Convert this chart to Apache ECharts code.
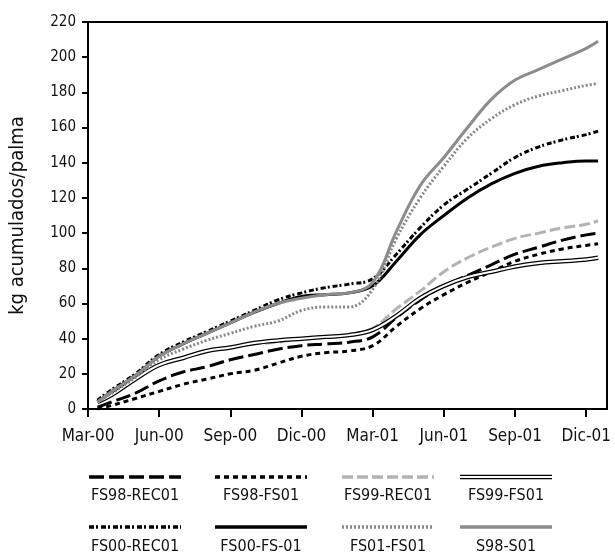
<!DOCTYPE html>
<html>
<head>
<meta charset="utf-8">
<script src="https://cdn.jsdelivr.net/npm/echarts@6/dist/echarts.min.js"></script>
<style>
  html, body { margin: 0; padding: 0; background: #fff; }
  #chart { width: 615px; height: 554px; }
</style>
</head>
<body>
<div id="chart"></div>
<script>
// months counted from Mar-00 (0) to Dic-01 (21)
const months = [0.4, 1, 2, 3, 4, 5, 6, 7, 8, 9, 10, 11, 12, 13, 14, 15, 16, 17, 18, 19, 20, 21, 21.5];
const tickLabels = ['Mar-00', 'Jun-00', 'Sep-00', 'Dic-00', 'Mar-01', 'Jun-01', 'Sep-01', 'Dic-01'];
const yTicks = [0, 20, 40, 60, 80, 100, 120, 140, 160, 180, 200, 220];

const fs98Rec01 = [1, 4, 9, 16, 21, 24, 28, 31, 34, 36, 37, 38, 41, 52, 62, 70, 76, 82, 88, 92, 96, 99, 100];
const fs98Fs01 = [0, 2, 6, 10, 14, 17, 20, 22, 26, 30, 32, 33, 36, 47, 57, 65, 72, 78, 84, 88, 91, 93, 94];
const fs99Rec01 = [4, 8, 17, 25, 29, 33, 35, 37, 38, 40, 41, 42, 46, 57, 67, 78, 86, 92, 97, 100, 103, 105, 107];
const fs99Fs01 = [4, 8, 17, 25, 29, 33, 35, 37.5, 39, 40, 41, 42, 45, 53, 63, 70, 75, 78, 81, 83, 84, 85, 86];
const fs00Rec01 = [5, 11, 20, 31, 38, 44, 50, 56, 62, 66, 69, 71, 74, 88, 103, 116, 125, 134, 143, 149, 153, 156, 158];
const fs00Fs01 = [4, 10, 19, 30, 37, 43, 49, 55, 60, 64, 65, 66, 70, 84, 99, 110, 120, 128, 134, 138, 140, 141, 141];
const fs01Fs01 = [4, 9, 18, 28, 34, 39, 43, 47, 50, 56, 58, 58, 68, 97, 120, 138, 154, 165, 173, 178, 181, 184, 185];
const s98S01 = [4, 10, 19, 30, 37, 43, 49, 55, 60, 63, 65, 66, 72, 101, 127, 143, 160, 176, 187, 193, 199, 205, 209];

const FONT = "'Liberation Sans Narrow', 'DejaVu Sans Condensed', 'Liberation Sans', sans-serif";

// line looks, also used for the legend under the plot
const looks = [
  { name: 'FS98-REC01', data: fs98Rec01, color: '#000', width: 3, dash: [15, 5] },
  { name: 'FS98-FS01', data: fs98Fs01, color: '#000', width: 3, dash: [5, 4] },
  { name: 'FS99-REC01', data: fs99Rec01, color: '#b3b3b3', width: 3, dash: [11, 4] },
  { name: 'FS99-FS01', data: fs99Fs01, color: '#000', width: 4.5, dash: null, double: true },
  { name: 'FS00-REC01', data: fs00Rec01, color: '#000', width: 3, dash: [5, 2, 2, 3] },
  { name: 'FS00-FS-01', data: fs00Fs01, color: '#000', width: 3, dash: null },
  { name: 'FS01-FS01', data: fs01Fs01, color: '#888', width: 3, dash: [2, 2] },
  { name: 'S98-S01', data: s98S01, color: '#8c8c8c', width: 3, dash: null }
];

function pairs(vals) {
  return vals.map((v, i) => [months[i], v]);
}

const series = [];
looks.forEach((l) => {
  series.push({
    name: l.name,
    type: 'line',
    data: pairs(l.data),
    smooth: 0.4,
    showSymbol: false,
    silent: true,
    lineStyle: { color: l.color, width: l.width, type: l.dash || 'solid', cap: 'butt' }
  });
  if (l.double) {
    // white core turns the thick line into a double line
    series.push({
      type: 'line',
      data: pairs(l.data),
      smooth: 0.4,
      showSymbol: false,
      silent: true,
      lineStyle: { color: '#fff', width: 2 }
    });
  }
});

// legend: sample line above the name, 4 columns x 2 rows
const colX = [135, 261, 388, 506];
const rowLineY = [477, 527];
const rowTextY = [496, 547];
const legend = [];
looks.forEach((l, i) => {
  const cx = colX[i % 4];
  const r = Math.floor(i / 4);
  const ly = rowLineY[r];
  legend.push({
    type: 'line',
    shape: { x1: cx - 46, y1: ly, x2: cx + 46, y2: ly },
    style: { stroke: l.color, lineWidth: l.double ? 4.5 : 3.5, lineDash: l.dash || null }
  });
  if (l.double) {
    legend.push({
      type: 'line',
      shape: { x1: cx - 46, y1: ly, x2: cx + 46, y2: ly },
      style: { stroke: '#fff', lineWidth: 2 }
    });
  }
  legend.push({
    type: 'text',
    x: cx,
    y: rowTextY[r],
    style: {
      text: l.name,
      fill: '#111',
      font: '16px ' + FONT,
      textAlign: 'center',
      textVerticalAlign: 'middle'
    }
  });
});

const chart = echarts.init(document.getElementById('chart'));
chart.setOption({
  animation: false,
  grid: {
    left: 82, right: 8, top: 22, bottom: 145,
    show: true, borderColor: '#000', borderWidth: 2
  },
  xAxis: {
    type: 'value',
    min: 0,
    max: 21.875,
    interval: 3,
    splitLine: { show: false },
    axisLine: { lineStyle: { color: '#000', width: 2 } },
    axisTick: {
      length: 8,
      lineStyle: { color: '#000', width: 2 },
      customValues: tickLabels.map((t, i) => i * 3)
    },
    axisLabel: {
      margin: 19,
      color: '#111',
      fontSize: 17,
      fontFamily: FONT,
      customValues: tickLabels.map((t, i) => i * 3),
      formatter: (v) => tickLabels[Math.round(v / 3)] || ''
    }
  },
  yAxis: {
    type: 'value',
    min: 0,
    max: 220,
    interval: 20,
    name: 'kg acumulados/palma',
    nameLocation: 'middle',
    nameGap: 60,
    nameTextStyle: { color: '#111', fontSize: 20, fontFamily: FONT },
    splitLine: { show: false },
    axisLine: { show: true, lineStyle: { color: '#000', width: 2 } },
    axisTick: { show: true, length: 6, lineStyle: { color: '#000', width: 2 }, customValues: yTicks },
    axisLabel: { margin: 12, color: '#111', fontSize: 15, fontFamily: FONT, customValues: yTicks }
  },
  series: series,
  graphic: legend
});
</script>
</body>
</html>
